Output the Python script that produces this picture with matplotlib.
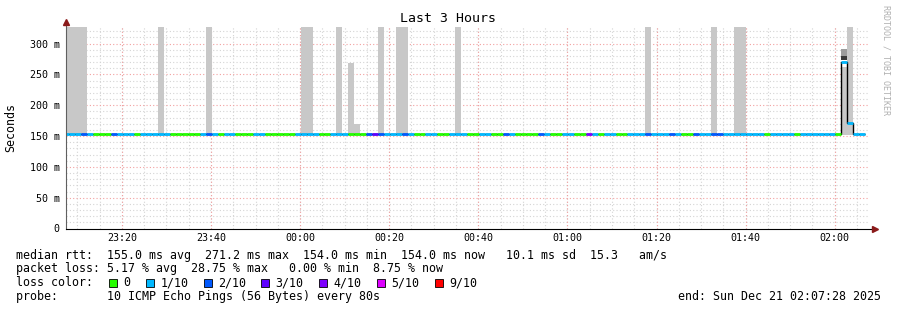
import matplotlib
matplotlib.use("Agg")
import matplotlib.pyplot as plt
from matplotlib.patches import Rectangle

W, H = 897, 310
plt.rcParams['font.family'] = ['DejaVu Sans Mono']

# x axis: minutes after 23:07:28, one rrd step every 80 s
step_min = 80 / 60
first_step = -0.65

# loss index per step (0 -> 0/10, 1 -> 1/10 ...)
loss = [1, 1, 1, 2, 1, 0, 0, 0, 2, 1,
        1, 1, 0, 1, 1, 1, 1, 1, 0, 0,
        0, 0, 0, 1, 2, 1, 0, 1, 1, 0,
        0, 0, 1, 1, 0, 0, 0, 0, 0, 1,
        1, 1, 1, 0, 0, 1, 1, 1, 0, 0,
        0, 2, 3, 2, 1, 1, 1, 2, 1, 0,
        0, 1, 1, 0, 0, 1, 1, 1, 0, 0,
        1, 1, 0, 0, 2, 1, 0, 0, 0, 0,
        2, 1, 0, 0, 1, 1, 0, 0, 4, 1,
        0, 1, 1, 0, 0, 1, 1, 1, 2, 1,
        1, 1, 2, 1, 0, 0, 2, 1, 1, 2,
        2, 1, 1, 1, 1, 1, 1, 1, 0, 1,
        1, 1, 1, 0, 1, 1, 1, 1, 1, 1,
        0, 1, 1, 1, 1]

# median rtt per step (ms)
median = [154, 154, 154, 154, 154, 154, 154, 154, 154, 154,
          154, 154, 154, 154, 154, 154, 154, 154, 154, 154,
          154, 154, 154, 154, 154, 154, 154, 154, 154, 154,
          154, 154, 154, 154, 154, 154, 154, 154, 154, 154,
          154, 154, 154, 154, 154, 154, 154, 154, 154, 154,
          154, 154, 154, 154, 154, 154, 154, 154, 154, 154,
          154, 154, 154, 154, 154, 154, 154, 154, 154, 154,
          154, 154, 154, 154, 154, 154, 154, 154, 154, 154,
          154, 154, 154, 154, 154, 154, 154, 154, 154, 154,
          154, 154, 154, 154, 154, 154, 154, 154, 154, 154,
          154, 154, 154, 154, 154, 154, 154, 154, 154, 154,
          154, 154, 154, 154, 154, 154, 154, 154, 154, 154,
          154, 154, 154, 154, 154, 154, 154, 154, 154, 154,
          154, 270, 171, 154, 154]

# smoke (ping spread) for steps where it shows up
smoke_steps = [0, 1, 2, 3, 16, 24, 40, 41, 46, 48, 49, 53, 56, 57, 66,
               98, 109, 113, 114, 131, 132]
smoke_top = [340, 340, 340, 340, 340, 340, 340, 340, 340, 269, 170, 340, 340, 340, 340,
             340, 340, 340, 340, 262, 340]
smoke_bottom = 152
# extra darker bands of the spike step 131
band_lo = [273, 280]
band_hi = [280, 292]
band_col = ['#3a3a3a', '#9c9c9c']

loss_colors = ['#26ff00', '#00b8ff', '#0059ff', '#5e00ff', '#7e00ff', '#dd00ff', '#ff0000']
loss_labels = ['0', '1/10', '2/10', '3/10', '4/10', '5/10', '9/10']

tick_labels = ['23:20', '23:40', '00:00', '00:20', '00:40', '01:00', '01:20', '01:40', '02:00']
first_tick = 12 + 32 / 60
y_top = 327


def fx(px):
    return px / W


def fy(py):
    return 1 - py / H


fig = plt.figure(figsize=(W / 100, H / 100), dpi=100)
ax = fig.add_axes([fx(66), fy(228.5), fx(868) - fx(66), (228.5 - 27) / H])
ax.set_xlim(0, 180)
ax.set_ylim(0, y_top)

# grid
grid_minor = '#d4d4d4'
grid_major = '#f2a0a0'
dots = (0, (1, 2))
for v in range(10, y_top, 10):
    if v % 50:
        ax.axhline(v, color=grid_minor, lw=0.8, ls=dots, zorder=0)
for v in range(50, y_top, 50):
    ax.axhline(v, color=grid_major, lw=0.8, ls=dots, zorder=0.5)
m = first_tick - 15
while m < 180:
    if m > 0:
        ax.axvline(m, color=grid_minor, lw=0.8, ls=dots, zorder=0)
    m += 5
ticks = [first_tick + 20 * i for i in range(len(tick_labels))]
for t in ticks:
    ax.axvline(t, color=grid_major, lw=0.8, ls=dots, zorder=0.5)

starts = [first_step + step_min * k for k in range(len(median))]
ends = [s + step_min for s in starts]

# smoke
ax.bar([starts[k] for k in smoke_steps], [t - smoke_bottom for t in smoke_top],
       width=step_min, bottom=smoke_bottom, align='edge', color='#c8c8c8',
       linewidth=0, zorder=1)
for lo, hi, c in zip(band_lo, band_hi, band_col):
    ax.bar(starts[131], hi - lo, width=step_min, bottom=lo, align='edge',
           color=c, linewidth=0, zorder=1.1)

# median: black stair outline and loss coloured segments
edges = starts + [ends[-1]]
ax.stairs(median, edges, baseline=None, color='black', lw=1.0, zorder=2)
ax.hlines(median, starts, ends, colors=[loss_colors[i] for i in loss],
          lw=2.0, zorder=3)

# axes
for s in ax.spines.values():
    s.set_visible(False)
ax.plot([0, 0], [0, y_top + 7], color='#606060', lw=0.8, clip_on=False, zorder=4)
ax.plot([0, 181], [0, 0], color='black', lw=0.8, clip_on=False, zorder=4)
ax.plot([0], [y_top + 8], marker='^', ms=4.5, color='#8b1a1a', clip_on=False, zorder=5)
ax.plot([181.5], [0], marker='>', ms=4.5, color='#8b1a1a', clip_on=False, zorder=5)

ax.set_yticks(range(0, 301, 50))
ax.set_yticklabels(['0'] + ['%d m' % v for v in range(50, 301, 50)])
ax.set_xticks(ticks)
ax.set_xticklabels(tick_labels)
ax.tick_params(axis='both', length=0, labelsize=7.2)
ax.tick_params(axis='y', pad=4.5)
ax.tick_params(axis='x', pad=3.5)

fig.text(fx(448), fy(19), 'Last 3 Hours', ha='center', va='center', fontsize=9.5)
fig.text(fx(11), fy(127), 'Seconds', rotation=90, ha='center', va='center', fontsize=8.4)
fig.text(fx(886), fy(5), 'RRDTOOL / TOBI OETIKER', rotation=270, ha='center', va='top',
         fontsize=6, color='#b0b0b0')

# legend block
leg_fs = 8.4
fig.text(fx(16), fy(255), 'median rtt:  155.0 ms avg  271.2 ms max  154.0 ms min  '
         '154.0 ms now   10.1 ms sd  15.3   am/s', va='center', fontsize=leg_fs)
fig.text(fx(16), fy(268.5), 'packet loss: 5.17 % avg  28.75 % max   0.00 % min  8.75 % now',
         va='center', fontsize=leg_fs)
fig.text(fx(16), fy(282.5), 'loss color:', va='center', fontsize=leg_fs)
sw_x = [108.5, 146, 203.5, 261, 318.5, 376.5, 435]
for x, c, lab in zip(sw_x, loss_colors, loss_labels):
    fig.add_artist(Rectangle((fx(x), fy(286.5)), 8 / W, 8 / H, transform=fig.transFigure,
                             facecolor=c, edgecolor='black', lw=0.6))
    fig.text(fx(x + 14.5), fy(282.5), lab, va='center', fontsize=leg_fs)
fig.text(fx(16), fy(296.5), 'probe:       10 ICMP Echo Pings (56 Bytes) every 80s',
         va='center', fontsize=leg_fs)
fig.text(fx(881), fy(296.5), 'end: Sun Dec 21 02:07:28 2025', ha='right', va='center',
         fontsize=leg_fs)

fig.savefig('out.png', dpi=100)
